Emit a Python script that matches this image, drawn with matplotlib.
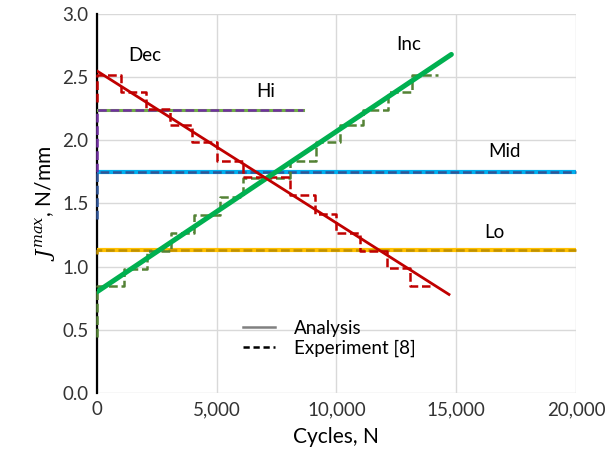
import matplotlib
matplotlib.use('Agg')
import matplotlib.pyplot as plt
from matplotlib.lines import Line2D

plt.rcParams['font.family'] = ['Lato', 'DejaVu Sans']
plt.rcParams['mathtext.fontset'] = 'dejavuserif'

# analysis (constant and linear loading)
hi_x, hi_y = [0, 8600], [2.24, 2.24]
mid_x, mid_y = [0, 20000], [1.75, 1.75]
lo_x, lo_y = [0, 20000], [1.13, 1.13]
inc_x, inc_y = [0, 14800], [0.80, 2.68]
dec_x, dec_y = [0, 14700], [2.55, 0.78]

# experiment [8]: block loading, step edges and levels
hi_ex_x = [0, 0, 8600]
hi_ex_y = [1.75, 2.24, 2.24]
mid_ex_x = [0, 0, 20000]
mid_ex_y = [1.38, 1.75, 1.75]
lo_ex_x = [0, 0, 20000]
lo_ex_y = [1.10, 1.13, 1.13]
inc_ex_x = [0, 0, 1130, 2090, 3090, 4050, 5130, 6100, 8060, 9170, 10150, 11100, 12150, 13150, 14250]
inc_ex_y = [0.44, 0.85, 0.98, 1.12, 1.27, 1.41, 1.55, 1.70, 1.84, 1.99, 2.12, 2.24, 2.38, 2.52, 2.52]
dec_ex_x = [0, 0, 1000, 2050, 3050, 3980, 5000, 6100, 8060, 9100, 10000, 11000, 12100, 13070, 13900]
dec_ex_y = [2.30, 2.52, 2.38, 2.25, 2.12, 1.99, 1.84, 1.71, 1.57, 1.42, 1.27, 1.12, 0.99, 0.85, 0.85]

labels = ['Dec', 'Hi', 'Inc', 'Mid', 'Lo']
label_x = [2000, 7050, 13000, 17000, 16600]
label_y = [2.67, 2.39, 2.76, 1.91, 1.27]

fig = plt.figure(figsize=(6.05, 4.67), dpi=100)
ax = fig.add_axes([0.160, 0.1585, 0.792, 0.8115])

dash = (3.5, 1.5)

# solid analysis curves
ax.plot(hi_x, hi_y, color='#70AD47', lw=2.2, zorder=3)
ax.plot(mid_x, mid_y, color='#00B0F0', lw=3.0, zorder=3)
ax.plot(lo_x, lo_y, color='#FFC000', lw=3.0, zorder=3)

# experimental block loading
ax.step(hi_ex_x, hi_ex_y, where='post', color='#7030A0', lw=1.8, dashes=dash, zorder=4, clip_on=False)
ax.step(mid_ex_x, mid_ex_y, where='post', color='#2F5597', lw=1.8, dashes=dash, zorder=4, clip_on=False)
ax.step(lo_ex_x, lo_ex_y, where='post', color='#BF9000', lw=1.8, dashes=dash, zorder=4, clip_on=False)
ax.step(inc_ex_x, inc_ex_y, where='post', color='#548235', lw=1.8, dashes=dash, zorder=4, clip_on=False)
ax.step(dec_ex_x, dec_ex_y, where='post', color='#C00000', lw=1.8, dashes=dash, zorder=4, clip_on=False)

ax.plot(inc_x, inc_y, color='#00B050', lw=3.6, solid_capstyle='round', zorder=5)
ax.plot(dec_x, dec_y, color='#C00000', lw=2.0, zorder=5)

for t, x, y in zip(labels, label_x, label_y):
    ax.text(x, y, t, fontsize=13.5, ha='center', va='center')

ax.set_xlim(0, 20000)
ax.set_ylim(0, 3.0)
ax.set_xticks([0, 5000, 10000, 15000, 20000])
ax.set_xticklabels(['0', '5,000', '10,000', '15,000', '20,000'])
ax.set_yticks([0, 0.5, 1.0, 1.5, 2.0, 2.5, 3.0])
ax.set_yticklabels(['0.0', '0.5', '1.0', '1.5', '2.0', '2.5', '3.0'])
ax.tick_params(length=0, labelsize=13.5, labelcolor='#333333', pad=6)
ax.grid(True, color='#D9D9D9', lw=1.0)
ax.set_axisbelow(True)
for s in ['top', 'right', 'bottom']:
    ax.spines[s].set_visible(False)
ax.spines['left'].set_linewidth(1.6)
ax.spines['left'].set_color('black')

ax.set_xlabel('Cycles, N', fontsize=15, labelpad=6)
ax.set_ylabel(r'$J^{max}$, N/mm', fontsize=15, labelpad=4)

handles = [Line2D([], [], color='#808080', lw=1.8),
           Line2D([], [], color='black', lw=1.8, dashes=(2.5, 1.5))]
ax.legend(handles, ['Analysis', 'Experiment [8]'], loc='lower left',
          bbox_to_anchor=(0.27, 0.05), frameon=False, fontsize=13.5,
          handlelength=1.7, handletextpad=1.0, labelspacing=0.15)

fig.savefig('out.png', dpi=100)
